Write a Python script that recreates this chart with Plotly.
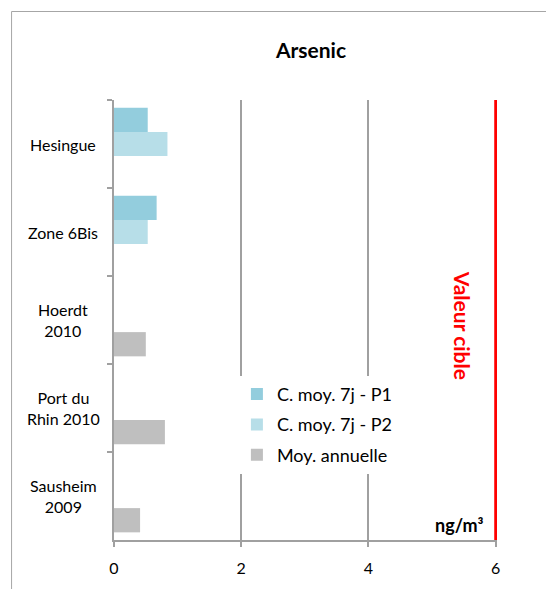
import plotly.graph_objects as go

categories = ["Hesingue", "Zone 6Bis", "Hoerdt 2010", "Port du Rhin 2010", "Sausheim 2009"]
category_labels = ["Hesingue", "Zone 6Bis", "Hoerdt<br>2010", "Port du<br>Rhin 2010", "Sausheim<br>2009"]
series_names = ["C. moy. 7j - P1", "C. moy. 7j - P2", "Moy. annuelle"]
p1_values = [0.53, 0.67, None, None, None]
p2_values = [0.84, 0.53, None, None, None]
annual_values = [None, None, 0.50, 0.80, 0.41]
series_colors = ["#93CDDD", "#B7DEE8", "#BFBFBF"]
target_value = 6
x_ticks = [0, 2, 4, 6]
x_max = 6.02

FONT = "Lato, Calibri, Carlito, sans-serif"

# page body margin offset (browser default 8px)
OFF = 8
W, H = 554 - OFF, 589 - OFF
# target pixel positions in the window -> figure coords
L = 114 - OFF
X6 = 496 - OFF
T = 100 - OFF
B = 545 - OFF
R = L + (X6 - L) * x_max / target_value
pw, ph = R - L, B - T

def fx(px):  # window px -> paper x
    return (px - OFF - L) / pw

def fy(py):  # window py -> paper y
    return 1 - (py - OFF - T) / ph

fig = go.Figure()
for name, vals, col in zip(series_names, [p1_values, p2_values, annual_values], series_colors):
    fig.add_trace(go.Bar(
        y=categories, x=vals, orientation="h", name=name,
        marker=dict(color=col, line=dict(width=0)),
        legendgroup=name,
    ))

# target line
fig.add_shape(type="line", xref="x", yref="paper", x0=target_value, x1=target_value,
              y0=0, y1=1, line=dict(color="#FF0000", width=3))

# outer chart border (top and left visible)
fig.add_shape(type="rect", xref="paper", yref="paper",
              x0=fx(11.5), x1=fx(600), y0=fy(640), y1=fy(10.5),
              line=dict(color="#A6A6A6", width=1), layer="below")

# category labels (centered, multi-line)
for cat, lab in zip(categories, category_labels):
    fig.add_annotation(x=fx(63), xref="paper", y=cat, yref="y",
                       text=lab, showarrow=False, xanchor="center", yanchor="middle",
                       align="center", font=dict(family=FONT, size=16, color="#000000"))

fig.add_annotation(x=target_value, xref="x", xshift=-33, y=fy(328), yref="paper",
                   text="<b>Valeur cible</b>", textangle=90, showarrow=False,
                   font=dict(family=FONT, size=21, color="#FF0000"))

fig.add_annotation(x=target_value, xref="x", xshift=-10, y=fy(530), yref="paper",
                   text="<b>ng/m³</b>", showarrow=False, xanchor="right", yanchor="middle",
                   font=dict(family=FONT, size=18, color="#000000"))

fig.update_layout(
    width=W, height=H,
    margin=dict(l=L, r=W - R, t=T, b=H - B, pad=0),
    paper_bgcolor="white", plot_bgcolor="white",
    barmode="group", bargap=0.174, bargroupgap=0,
    font=dict(family=FONT, size=16, color="#000000"),
    title=dict(text="<b>Arsenic</b>", x=(311 - OFF) / W, xref="container", xanchor="center",
               y=1 - (51 - OFF) / H, yref="container", yanchor="middle",
               font=dict(family=FONT, size=21, color="#000000")),
    legend=dict(x=fx(237), y=fy(379), xanchor="left", yanchor="top",
                bgcolor="white", borderwidth=0, traceorder="grouped", tracegroupgap=4,
                font=dict(family=FONT, size=18, color="#000000")),
    showlegend=True,
)

fig.update_xaxes(range=[0, x_max], tickvals=x_ticks, ticktext=[str(v) for v in x_ticks],
                 showgrid=True, gridcolor="#A0A0A0", gridwidth=1.5,
                 showline=True, linecolor="#A0A0A0", linewidth=1.5,
                 ticks="outside", ticklen=5, tickcolor="#A0A0A0", tickwidth=1.5,
                 ticklabelstandoff=8, zeroline=False,
                 tickfont=dict(family=FONT, size=16, color="#000000"))

fig.update_yaxes(categoryorder="array", categoryarray=categories, autorange="reversed",
                 showticklabels=False, showgrid=False,
                 showline=True, linecolor="#A0A0A0", linewidth=1.5,
                 ticks="outside", ticklen=5, tickcolor="#A0A0A0", tickwidth=1.5,
                 tickson="boundaries", zeroline=False)

fig.write_html("out.html")
